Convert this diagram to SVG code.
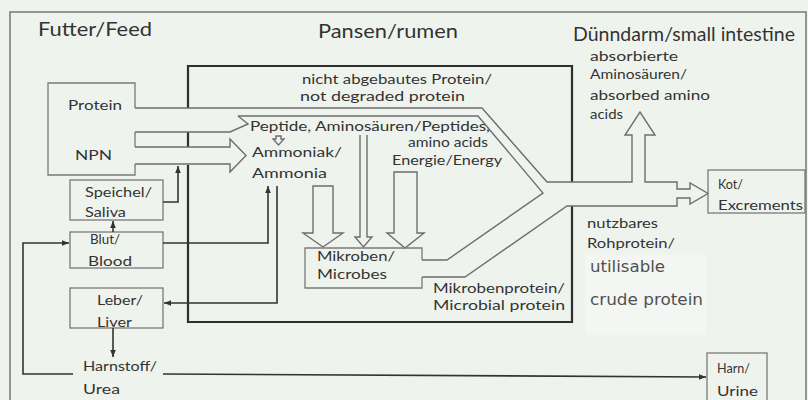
<svg xmlns="http://www.w3.org/2000/svg" width="808" height="400" viewBox="0 0 808 400">
<defs>
<style>
.t{font-family:Lato,"Open Sans","Liberation Sans",sans-serif;fill:#333}
.h{font-size:20px}
.s{font-size:14px}
.n{font-size:13px}
.u{font-family:"DejaVu Sans","Liberation Sans",sans-serif;fill:#505050;font-size:15px}
.box{fill:none;stroke:#7a7a7a;stroke-width:1.3}
.band{fill:none;stroke:#6e6e6e;stroke-width:1.4;stroke-linejoin:miter}
.con{fill:none;stroke:#333;stroke-width:1.6}
.rumen{fill:none;stroke:#2e2e2e;stroke-width:2.2}
</style>
<marker id="ah" viewBox="0 0 10 10" refX="10" refY="5" markerWidth="7" markerHeight="7" orient="auto" markerUnits="userSpaceOnUse"><path d="M0,1 L10,5 L0,9 Z" fill="#333"/></marker>
</defs>
<rect x="0" y="0" width="808" height="400" fill="#eff3ee"/>
<rect x="585" y="255" width="122" height="80" fill="#f4f6f3"/>
<rect x="10" y="12" width="796" height="400" fill="none" stroke="#777" stroke-width="1.5"/>

<g id="headers">
<text class="t h" x="38" y="36" textLength="114" lengthAdjust="spacingAndGlyphs">Futter/Feed</text>
<text class="t h" x="318" y="38" textLength="140" lengthAdjust="spacingAndGlyphs">Pansen/rumen</text>
<text class="t h" x="573" y="41" textLength="222" lengthAdjust="spacingAndGlyphs">Dünndarm/small intestine</text>
</g>

<g id="rumen">
<path class="rumen" d="M188,108 V66 H572 V182 M572,206 V322 H188 V165 M188,147 V132"/>
</g>

<g id="feed">
<path class="box" d="M135,108 V83 H48 V175 H135 V164 M135,132 V147"/>
<text class="t s" x="68" y="110" textLength="54" lengthAdjust="spacingAndGlyphs">Protein</text>
<text class="t s" x="75" y="160" textLength="37" lengthAdjust="spacingAndGlyphs">NPN</text>
</g>

<g id="flows">
<path class="band" d="M135,108 H482 L547,182 H632 V135 H625 L640,112 L655,135 H645 V182 H677 V189 H690 V183 L708,193.5 L690,204 V198 H677 V206 H567 L465,277 H422"/>
<path class="band" d="M238,116 H478 L543,193 L447,260 H422"/>
<path class="band" d="M135,132 H230 L248,124 L238,116"/>
<path class="band" d="M135,147 H230 V139 L246,155.5 L230,172 V164 H135"/>
<path class="band" d="M313,186 V233 H303 L323,247 L343,233 H333 V186 Z"/>
<path class="band" d="M360,135 V237 H355 L363.5,247 L372,237 H367 V135"/>
<path class="band" d="M394,172 V233 H387 L405,248 L424,233 H417 V172 Z"/>
<path class="band" d="M276,136 H281 V139 H284 L278.5,145 L273,139 H276 Z"/>
</g>

<g id="rumen-texts">
<text class="t n" x="302" y="84" textLength="190" lengthAdjust="spacingAndGlyphs">nicht abgebautes Protein/</text>
<text class="t n" x="300" y="101" textLength="165" lengthAdjust="spacingAndGlyphs">not degraded protein</text>
<text class="t s" x="250" y="131" textLength="240" lengthAdjust="spacingAndGlyphs">Peptide, Aminosäuren/Peptides,</text>
<text class="t s" x="408" y="147" textLength="80" lengthAdjust="spacingAndGlyphs">amino acids</text>
<text class="t s" x="252" y="157" textLength="90" lengthAdjust="spacingAndGlyphs">Ammoniak/</text>
<text class="t s" x="252" y="178" textLength="75" lengthAdjust="spacingAndGlyphs">Ammonia</text>
<text class="t s" x="392" y="165" textLength="110" lengthAdjust="spacingAndGlyphs">Energie/Energy</text>
<text class="t s" x="433" y="293" textLength="132" lengthAdjust="spacingAndGlyphs">Mikrobenprotein/</text>
<text class="t s" x="433" y="310" textLength="132" lengthAdjust="spacingAndGlyphs">Microbial protein</text>
</g>

<g id="microbes">
<path class="box" d="M422,260 V248 H305 V288 H422 V277"/>
<text class="t s" x="317" y="261" textLength="78" lengthAdjust="spacingAndGlyphs">Mikroben/</text>
<text class="t s" x="317" y="279" textLength="70" lengthAdjust="spacingAndGlyphs">Microbes</text>
</g>

<g id="saliva">
<rect class="box" x="70" y="180" width="93" height="40"/>
<text class="t s" x="85" y="197" textLength="67" lengthAdjust="spacingAndGlyphs">Speichel/</text>
<text class="t s" x="85" y="217" textLength="41" lengthAdjust="spacingAndGlyphs">Saliva</text>
</g>
<g id="blood">
<rect class="box" x="70" y="232" width="93" height="36"/>
<text class="t s" x="90" y="244" textLength="30" lengthAdjust="spacingAndGlyphs">Blut/</text>
<text class="t s" x="88" y="266" textLength="44" lengthAdjust="spacingAndGlyphs">Blood</text>
</g>
<g id="liver">
<rect class="box" x="70" y="288" width="93" height="40"/>
<text class="t s" x="97" y="305" textLength="46" lengthAdjust="spacingAndGlyphs">Leber/</text>
<text class="t s" x="97" y="327" textLength="35" lengthAdjust="spacingAndGlyphs">Liver</text>
</g>
<g id="urea">
<text class="t s" x="83" y="371" textLength="74" lengthAdjust="spacingAndGlyphs">Harnstoff/</text>
<text class="t s" x="83" y="394" textLength="37" lengthAdjust="spacingAndGlyphs">Urea</text>
</g>

<g id="absorbed">
<text class="t s" x="590" y="61" textLength="88" lengthAdjust="spacingAndGlyphs">absorbierte</text>
<text class="t s" x="590" y="79" textLength="97" lengthAdjust="spacingAndGlyphs">Aminosäuren/</text>
<text class="t s" x="590" y="100" textLength="120" lengthAdjust="spacingAndGlyphs">absorbed amino</text>
<text class="t s" x="590" y="119" textLength="33" lengthAdjust="spacingAndGlyphs">acids</text>
</g>

<g id="utilisable">
<text class="t s" x="587" y="228" textLength="71" lengthAdjust="spacingAndGlyphs">nutzbares</text>
<text class="t s" x="587" y="248" textLength="88" lengthAdjust="spacingAndGlyphs">Rohprotein/</text>
<text class="u" x="590" y="272" textLength="75" lengthAdjust="spacingAndGlyphs">utilisable</text>
<text class="u" x="590" y="305" textLength="113" lengthAdjust="spacingAndGlyphs" style="font-size:16px">crude protein</text>
</g>

<g id="kot">
<rect class="box" x="708" y="170" width="97" height="43"/>
<text class="t s" x="718" y="189" textLength="25" lengthAdjust="spacingAndGlyphs">Kot/</text>
<text class="t s" x="718" y="210" textLength="85" lengthAdjust="spacingAndGlyphs">Excrements</text>
</g>

<g id="harn">
<rect class="box" x="707" y="353" width="60" height="50"/>
<text class="t s" x="717" y="373" textLength="33" lengthAdjust="spacingAndGlyphs">Harn/</text>
<text class="t s" x="717" y="396" textLength="41" lengthAdjust="spacingAndGlyphs">Urine</text>
</g>

<g id="connectors">
<path class="con" d="M163,202 H178 V166" marker-end="url(#ah)"/>
<path class="con" d="M113,232 V221" marker-end="url(#ah)"/>
<path class="con" d="M163,243 H268 V186" marker-end="url(#ah)"/>
<path class="con" d="M277,186 V303 H164" marker-end="url(#ah)"/>
<path class="con" d="M113,328 V357" marker-end="url(#ah)"/>
<path class="con" d="M73,374 H23 V243 H69" marker-end="url(#ah)"/>
<path class="con" d="M163,374 L706,377" marker-end="url(#ah)"/>
</g>
</svg>
